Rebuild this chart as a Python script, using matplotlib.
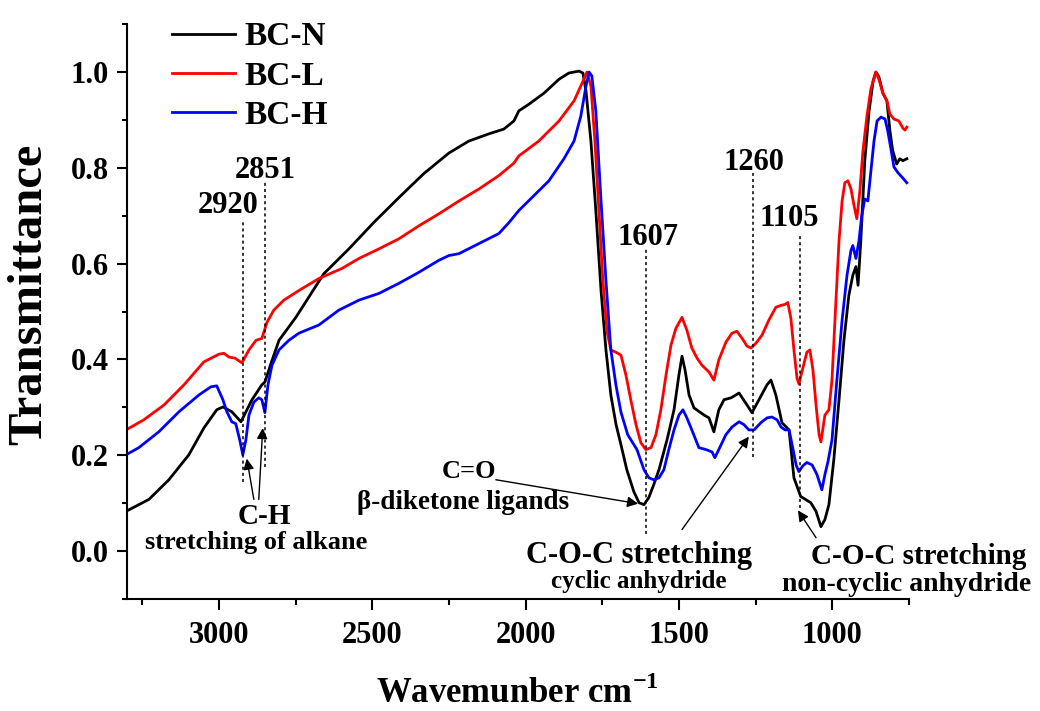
import matplotlib
matplotlib.use('Agg')
import matplotlib.pyplot as plt
from matplotlib.ticker import MultipleLocator

plt.rcParams['font.family'] = ['Liberation Serif', 'DejaVu Serif']
plt.rcParams['font.weight'] = 'bold'
plt.rcParams['axes.labelweight'] = 'bold'
plt.rcParams['mathtext.fontset'] = 'custom'
plt.rcParams['mathtext.rm'] = 'Liberation Serif:bold'
plt.rcParams['mathtext.bf'] = 'Liberation Serif:bold'


# BC-N (black)
wn_n = [3303, 3228, 3163, 3098, 3049, 3007, 2987, 2958, 2928, 2892, 2860, 2850, 2830, 2804,
        2749, 2713, 2658, 2576, 2495, 2413, 2332, 2250, 2185, 2120, 2071, 2038, 2022, 1989,
        1940, 1891, 1859, 1826, 1813, 1803, 1787, 1771, 1754, 1738, 1722, 1705, 1689, 1670,
        1647, 1630, 1614, 1598, 1582, 1565, 1539, 1516, 1500, 1490, 1480, 1467, 1451, 1418,
        1402, 1386, 1370, 1353, 1330, 1304, 1278, 1262, 1239, 1213, 1200, 1184, 1164, 1141,
        1125, 1103, 1070, 1053, 1037, 1024, 1011, 995, 978, 962, 946, 933, 923, 916, 907,
        894, 880, 867, 858, 848, 835, 822, 812, 803, 790, 780, 770, 757]
t_n = [0.083, 0.108, 0.149, 0.201, 0.257, 0.295, 0.301, 0.291, 0.270, 0.316, 0.347, 0.353,
       0.392, 0.440, 0.488, 0.524, 0.579, 0.631, 0.686, 0.738, 0.788, 0.831, 0.856, 0.871,
       0.881, 0.898, 0.919, 0.933, 0.956, 0.985, 0.998, 1.002, 0.998, 0.960, 0.856, 0.711,
       0.544, 0.420, 0.326, 0.264, 0.222, 0.170, 0.124, 0.101, 0.097, 0.112, 0.139, 0.170,
       0.232, 0.295, 0.368, 0.407, 0.378, 0.326, 0.299, 0.284, 0.278, 0.249, 0.295, 0.316,
       0.320, 0.330, 0.305, 0.289, 0.316, 0.347, 0.357, 0.326, 0.268, 0.253, 0.153, 0.114,
       0.101, 0.083, 0.051, 0.066, 0.097, 0.191, 0.316, 0.440, 0.534, 0.576, 0.594, 0.555,
       0.648, 0.815, 0.919, 0.981, 1.000, 0.990, 0.956, 0.940, 0.877, 0.836, 0.808, 0.819,
       0.815, 0.819]

# BC-L (red)
wn_l = [3303, 3245, 3179, 3114, 3049, 3000, 2984, 2967, 2948, 2925, 2902, 2879, 2860, 2843,
        2821, 2788, 2739, 2674, 2599, 2543, 2478, 2413, 2348, 2283, 2217, 2152, 2087, 2038,
        2022, 1957, 1891, 1842, 1810, 1800, 1787, 1774, 1761, 1748, 1735, 1722, 1705, 1689,
        1673, 1657, 1640, 1624, 1608, 1591, 1575, 1559, 1542, 1526, 1510, 1490, 1474, 1458,
        1441, 1425, 1402, 1386, 1370, 1347, 1327, 1311, 1294, 1278, 1265, 1249, 1229, 1207,
        1184, 1167, 1154, 1145, 1135, 1125, 1115, 1109, 1096, 1083, 1073, 1063, 1053, 1043,
        1037, 1024, 1011, 1001, 988, 978, 968, 959, 949, 939, 929, 920, 910, 900, 887, 874,
        858, 848, 835, 822, 812, 799, 783, 770, 763, 757]
t_l = [0.253, 0.274, 0.305, 0.347, 0.395, 0.411, 0.413, 0.405, 0.403, 0.393, 0.420, 0.440,
       0.444, 0.478, 0.503, 0.524, 0.544, 0.569, 0.590, 0.611, 0.631, 0.652, 0.679, 0.704,
       0.731, 0.756, 0.784, 0.810, 0.825, 0.856, 0.898, 0.940, 0.985, 1.000, 0.971, 0.856,
       0.711, 0.565, 0.461, 0.420, 0.415, 0.409, 0.368, 0.316, 0.264, 0.226, 0.212, 0.216,
       0.243, 0.295, 0.368, 0.430, 0.465, 0.488, 0.461, 0.424, 0.403, 0.388, 0.374, 0.357,
       0.399, 0.436, 0.455, 0.459, 0.444, 0.428, 0.424, 0.434, 0.451, 0.482, 0.509, 0.513,
       0.515, 0.519, 0.486, 0.420, 0.361, 0.349, 0.382, 0.415, 0.420, 0.378, 0.305, 0.243,
       0.228, 0.284, 0.295, 0.357, 0.524, 0.648, 0.731, 0.769, 0.773, 0.756, 0.721, 0.694,
       0.752, 0.836, 0.908, 0.965, 1.000, 0.985, 0.956, 0.940, 0.912, 0.902, 0.898, 0.883,
       0.879, 0.885]

# BC-H (blue)
wn_h = [3303, 3261, 3196, 3130, 3065, 3026, 3007, 2987, 2974, 2958, 2945, 2932, 2922, 2912,
        2902, 2886, 2870, 2860, 2850, 2840, 2827, 2804, 2772, 2739, 2674, 2609, 2543, 2478,
        2413, 2348, 2283, 2250, 2217, 2152, 2087, 2054, 2022, 1973, 1924, 1875, 1842, 1820,
        1803, 1793, 1784, 1771, 1754, 1738, 1722, 1705, 1689, 1667, 1637, 1614, 1598, 1582,
        1565, 1549, 1533, 1516, 1500, 1487, 1474, 1458, 1435, 1412, 1392, 1383, 1370, 1347,
        1327, 1304, 1288, 1272, 1255, 1233, 1213, 1197, 1180, 1167, 1154, 1141, 1131, 1118,
        1109, 1096, 1083, 1066, 1050, 1034, 1024, 1014, 1001, 985, 968, 952, 939, 933, 923,
        913, 904, 894, 884, 874, 864, 854, 841, 828, 819, 809, 799, 786, 773, 757]
t_h = [0.201, 0.216, 0.249, 0.291, 0.326, 0.343, 0.345, 0.316, 0.291, 0.270, 0.266, 0.232,
       0.201, 0.232, 0.284, 0.311, 0.320, 0.316, 0.289, 0.347, 0.388, 0.420, 0.440, 0.455,
       0.472, 0.503, 0.524, 0.538, 0.559, 0.582, 0.607, 0.617, 0.621, 0.642, 0.663, 0.686,
       0.711, 0.742, 0.773, 0.819, 0.856, 0.908, 0.971, 1.000, 0.992, 0.919, 0.731, 0.565,
       0.420, 0.345, 0.290, 0.243, 0.212, 0.170, 0.153, 0.149, 0.153, 0.170, 0.212, 0.253,
       0.284, 0.295, 0.278, 0.253, 0.216, 0.212, 0.207, 0.195, 0.212, 0.243, 0.259, 0.270,
       0.264, 0.253, 0.253, 0.268, 0.278, 0.280, 0.274, 0.259, 0.253, 0.253, 0.222, 0.180,
       0.166, 0.178, 0.185, 0.180, 0.160, 0.128, 0.160, 0.187, 0.232, 0.357, 0.482, 0.576,
       0.628, 0.638, 0.611, 0.648, 0.700, 0.735, 0.731, 0.794, 0.856, 0.898, 0.906, 0.902,
       0.877, 0.840, 0.802, 0.790, 0.781, 0.769]

series_names = ['BC-N', 'BC-L', 'BC-H']
series_colors = ['black', 'red', 'blue']

# marked bands: position, label, dotted line from/to
peak_wn = [2920, 2851, 1607, 1260, 1105]
peak_top = [0.69, 0.77, 0.632, 0.79, 0.665]
peak_bottom = [0.145, 0.176, 0.035, 0.196, 0.09]
peak_label_pos = [(2971, 0.721), (2850, 0.794), (1601, 0.654), (1255, 0.811), (1141, 0.694)]


fig = plt.figure(figsize=(10.4, 7.11), dpi=100)
ax = fig.add_axes([0.122, 0.1575, 0.752, 0.8085])

for wn, t, name, c in zip([wn_n, wn_l, wn_h], [t_n, t_l, t_h], series_names, series_colors):
    ax.plot(wn, t, color=c, lw=2.0, label=name)

for w, top, bot, (lx, ly) in zip(peak_wn, peak_top, peak_bottom, peak_label_pos):
    ax.plot([w, w], [bot, top], color='black', lw=1.1, linestyle=(0, (2, 2)))
    ax.text(lx, ly, str(w), fontsize=22, ha='center', va='center')

arrow = dict(arrowstyle='-|>', color='black', lw=1.0, mutation_scale=16, shrinkA=0, shrinkB=0)

# C-H stretching
ax.annotate('', xy=(2909, 0.193), xytext=(2886, 0.108), arrowprops=arrow)
ax.annotate('', xy=(2857, 0.257), xytext=(2870, 0.108), arrowprops=arrow)
ax.text(2853, 0.072, 'C-H', fontsize=21, ha='center', va='center')
ax.text(2879, 0.017, 'stretching of alkane', fontsize=19, ha='center', va='center')

# C=O
ax.annotate('', xy=(1633, 0.099), xytext=(2097, 0.149), arrowprops=arrow)
ax.text(2185, 0.166, 'C=O', fontsize=19, ha='center', va='center')
ax.text(2204, 0.101, 'β-diketone ligands', fontsize=19.5, ha='center', va='center')

# cyclic anhydride
ax.annotate('', xy=(1272, 0.239), xytext=(1490, 0.045), arrowprops=arrow)
ax.text(1630, -0.009, 'C-O-C stretching', fontsize=22, ha='center', va='center')
ax.text(1630, -0.063, 'cyclic anhydride', fontsize=18, ha='center', va='center')

# non-cyclic anhydride
ax.annotate('', xy=(1112, 0.085), xytext=(1053, 0.028), arrowprops=arrow,
            annotation_clip=False)
ax.text(717, -0.011, 'C-O-C stretching', fontsize=21, ha='center', va='center', clip_on=False)
ax.text(757, -0.069, 'non-cyclic anhydride', fontsize=20, ha='center', va='center',
        clip_on=False)

ax.set_xlim(3300, 750)
ax.set_ylim(-0.1, 1.1)
ax.xaxis.set_major_locator(MultipleLocator(500))
ax.xaxis.set_minor_locator(MultipleLocator(250))
ax.yaxis.set_major_locator(MultipleLocator(0.2))
ax.yaxis.set_minor_locator(MultipleLocator(0.1))
ax.yaxis.set_major_formatter(lambda v, p: f'{v:.1f}')

for s in ['top', 'right']:
    ax.spines[s].set_visible(False)
for s in ['left', 'bottom']:
    ax.spines[s].set_linewidth(1.5)

ax.tick_params(axis='both', which='major', labelsize=22, width=1.5, direction='out')
ax.tick_params(axis='y', which='major', length=7, pad=6)
ax.tick_params(axis='y', which='minor', length=3.5, width=1.5)
ax.tick_params(axis='x', which='major', length=8, pad=8)
ax.tick_params(axis='x', which='minor', length=4.5, width=1.5)

ax.set_xlabel(r'Wavemunber cm$^{\mathbf{-1}}$', fontsize=25)
ax.set_ylabel('Transmittance', fontsize=35)
ax.xaxis.set_label_coords(0.5, -0.135)
ax.yaxis.set_label_coords(-0.097, 0.53)

ax.legend(loc='upper left', bbox_to_anchor=(0.036, 1.034), frameon=False, fontsize=24,
          handlelength=1.9, handletextpad=0.27, labelspacing=0.25, borderpad=0)

fig.savefig('out.png', dpi=100)
